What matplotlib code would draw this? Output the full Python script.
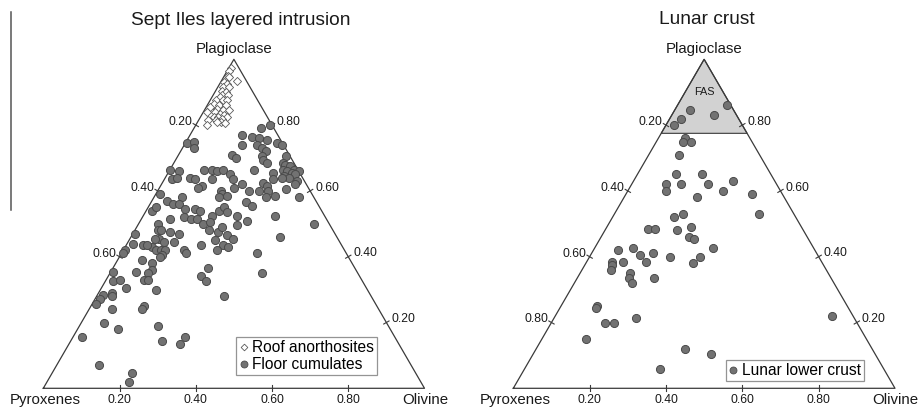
import numpy as np
import matplotlib
matplotlib.use('Agg')
import matplotlib.pyplot as plt
from matplotlib.lines import Line2D

plt.rcParams['font.family'] = ['Liberation Sans', 'DejaVu Sans']

H = np.sqrt(3) / 2

# compositions as fractions; pyroxene is whatever is left over
# Sept Iles - roof anorthosites
roof_plag = [0.975, 0.965, 0.95, 0.945, 0.935, 0.93, 0.925, 0.915, 0.915, 0.905,
             0.90, 0.89, 0.89, 0.885, 0.875, 0.875, 0.875, 0.865, 0.86, 0.86,
             0.855, 0.85, 0.845, 0.845, 0.84, 0.84, 0.835, 0.83, 0.825, 0.825,
             0.825, 0.82, 0.815, 0.815, 0.81, 0.81, 0.805, 0.80]
roof_ol = [0.005, 0.005, 0.01, 0.015, 0.04, 0.01, 0.02, 0.015, 0.03, 0.015,
           0.03, 0.025, 0.04, 0.02, 0.015, 0.035, 0.045, 0.015, 0.03, 0.05,
           0.01, 0.03, 0.05, 0.065, 0.01, 0.03, 0.045, 0.06, 0.035, 0.045,
           0.07, 0.06, 0.025, 0.045, 0.06, 0.05, 0.075, 0.03]

# Sept Iles - floor cumulates
floor_plag = [0.745, 0.75, 0.73, 0.80, 0.79, 0.77, 0.765, 0.76, 0.755, 0.74,
              0.74, 0.745, 0.74, 0.73, 0.72, 0.705, 0.71, 0.70, 0.705, 0.695,
              0.685, 0.665, 0.685, 0.68, 0.675, 0.665, 0.66, 0.665, 0.66, 0.655,
              0.65, 0.645, 0.64, 0.63, 0.62, 0.64, 0.655, 0.635, 0.665, 0.665,
              0.66, 0.665, 0.65, 0.635, 0.64, 0.635, 0.635, 0.615, 0.61, 0.62,
              0.61, 0.60, 0.60, 0.625, 0.615, 0.60, 0.58, 0.585, 0.60, 0.59,
              0.585, 0.58, 0.58, 0.605, 0.58,
              0.665, 0.66, 0.635, 0.64, 0.59,
              0.54, 0.55, 0.57, 0.56, 0.56, 0.545, 0.545, 0.54, 0.525, 0.54,
              0.55, 0.535, 0.525, 0.565, 0.555, 0.525, 0.50, 0.52, 0.515, 0.515,
              0.515, 0.50, 0.505, 0.495, 0.51, 0.50, 0.48, 0.47, 0.48, 0.475,
              0.47, 0.455, 0.455, 0.445, 0.445, 0.43, 0.435, 0.435, 0.44, 0.48,
              0.475, 0.49, 0.465, 0.455, 0.45, 0.46, 0.42, 0.41, 0.42, 0.42,
              0.42, 0.405, 0.40, 0.435, 0.43, 0.42, 0.435, 0.42, 0.41, 0.41,
              0.39, 0.38, 0.36, 0.35, 0.33, 0.33, 0.355, 0.355, 0.325, 0.33,
              0.305, 0.365, 0.34, 0.325, 0.35, 0.30, 0.285, 0.29, 0.28, 0.27,
              0.255, 0.24, 0.25, 0.24, 0.28, 0.20, 0.18, 0.19, 0.145, 0.135,
              0.155, 0.155, 0.07, 0.045, 0.02]
floor_ol = [0.005, 0.02, 0.03, 0.195, 0.175, 0.135, 0.165, 0.185, 0.21, 0.15,
            0.19, 0.24, 0.255, 0.21, 0.225, 0.285, 0.14, 0.155, 0.22, 0.23,
            0.245, 0.22, 0.285, 0.295, 0.31, 0.325, 0.34, 0.295, 0.31, 0.325,
            0.335, 0.31, 0.325, 0.35, 0.35, 0.305, 0.275, 0.285, 0.09, 0.11,
            0.125, 0.14, 0.165, 0.18, 0.065, 0.08, 0.125, 0.11, 0.10, 0.21,
            0.195, 0.24, 0.265, 0.265, 0.28, 0.29, 0.295, 0.315, 0.165, 0.175,
            0.19, 0.17, 0.075, 0.335, 0.38,
            0.0, 0.025, 0.02, 0.03, 0.01,
            0.015, 0.02, 0.04, 0.06, 0.075, 0.10, 0.125, 0.14, 0.18, 0.19,
            0.20, 0.215, 0.245, 0.25, 0.27, 0.345, 0.46, 0.11, 0.13, 0.145,
            0.075, 0.17, 0.185, 0.26, 0.28, 0.05, 0.06, 0.005, 0.07, 0.095,
            0.12, 0.075, 0.065, 0.095, 0.12, 0.07, 0.045, 0.055, 0.015, 0.195,
            0.22, 0.225, 0.25, 0.27, 0.225, 0.39, 0.005, 0.005, 0.085, 0.10,
            0.11, 0.11, 0.105, 0.255, 0.27, 0.245, 0.195, 0.16, 0.17, 0.355,
            0.065, 0.095, 0.105, 0.10, 0.10, 0.11, 0.065, 0.005, 0.02, 0.035,
            0.065, 0.25, 0.245, 0.265, 0.40, 0.145, 0.015, 0.035, 0.04, 0.015,
            0.01, 0.06, 0.14, 0.14, 0.335, 0.06, 0.105, 0.205, 0.24, 0.29,
            0.295, 0.025, 0.11, 0.21, 0.215]

# lunar lower crust samples
lunar_plag = [0.86, 0.845, 0.82, 0.83, 0.80, 0.76, 0.75, 0.75, 0.71, 0.65,
              0.62, 0.62, 0.60, 0.65, 0.62, 0.63, 0.60, 0.59, 0.53, 0.58,
              0.53, 0.52, 0.485, 0.485, 0.48, 0.49, 0.46, 0.455, 0.42, 0.425,
              0.405, 0.41, 0.385, 0.385, 0.375, 0.36, 0.385, 0.40, 0.40, 0.38,
              0.425, 0.35, 0.335, 0.32, 0.335, 0.25, 0.245, 0.20, 0.20, 0.215,
              0.15, 0.12, 0.105, 0.06, 0.22]
lunar_ol = [0.13, 0.04, 0.03, 0.11, 0.02, 0.07, 0.07, 0.09, 0.08, 0.10,
            0.09, 0.13, 0.10, 0.17, 0.20, 0.26, 0.25, 0.33, 0.38, 0.19,
            0.18, 0.16, 0.11, 0.13, 0.19, 0.22, 0.23, 0.245, 0.065, 0.10,
            0.13, 0.16, 0.155, 0.065, 0.07, 0.075, 0.095, 0.21, 0.29, 0.28,
            0.31, 0.13, 0.135, 0.15, 0.20, 0.095, 0.095, 0.14, 0.165, 0.215,
            0.115, 0.39, 0.465, 0.355, 0.725]

FAS_MIN_PLAG = 0.775

bottom_ticks = [0.2, 0.4, 0.6, 0.8]
right_ticks = [0.2, 0.4, 0.6, 0.8]
sept_left_ticks = [0.2, 0.4, 0.6]
lunar_left_ticks = [0.2, 0.4, 0.6, 0.8]

EDGE = '#3a3a3a'
DOT_FACE = '#727272'
DOT_EDGE = '#4a4a4a'
TEXT = '#1a1a1a'


def to_xy(plag, ol):
    plag = np.asarray(plag, dtype=float)
    ol = np.asarray(ol, dtype=float)
    return ol + plag / 2, plag * H


def draw_frame(ax, left_ticks):
    ax.set_xlim(0, 1)
    ax.set_ylim(0, H)
    ax.axis('off')
    ax.plot([0, 1, 0.5, 0], [0, 0, H, 0], color=EDGE, lw=0.9, clip_on=False, zorder=3)
    d = 0.008
    kw = dict(color=EDGE, lw=0.8, clip_on=False, zorder=3)
    lab = dict(fontsize=8.7, color=TEXT, textcoords='offset points')
    for t in bottom_ticks:
        ax.plot([t, t], [-d, d], **kw)
        ax.annotate(f'{t:.2f}', (t, 0), xytext=(0, -8.5), ha='center', va='center', **lab)
    for t in left_ticks:
        x, y = to_xy(1 - t, 0)
        ax.plot([x - 0.866 * d, x + 0.866 * d], [y + 0.5 * d, y - 0.5 * d], **kw)
        ax.annotate(f'{t:.2f}', (x, y), xytext=(-2.5, 2.2), ha='right', va='center', **lab)
    for t in right_ticks:
        x, y = to_xy(t, 1 - t)
        ax.plot([x - 0.866 * d, x + 0.866 * d], [y - 0.5 * d, y + 0.5 * d], **kw)
        ax.annotate(f'{t:.2f}', (x, y), xytext=(3.5, 2.4), ha='left', va='center', **lab)
    corner = dict(fontsize=10.8, color=TEXT, textcoords='offset points',
                  ha='center', va='center', annotation_clip=False)
    ax.annotate('Pyroxenes', (0, 0), xytext=(1.5, -8.4), **corner)
    ax.annotate('Olivine', (1, 0), xytext=(0.5, -8.4), **corner)
    ax.annotate('Plagioclase', (0.5, H), xytext=(0, 7.4), **corner)


def dots(ax, plag, ol):
    x, y = to_xy(plag, ol)
    ax.scatter(x, y, s=34, marker='o', facecolor=DOT_FACE, edgecolor=DOT_EDGE,
               linewidth=0.7, clip_on=False, zorder=4)


fig = plt.figure(figsize=(9.18, 4.07), dpi=100)
fig.patch.set_facecolor('white')

ax1 = fig.add_axes([43.3 / 918, 18.7 / 407, 381.2 / 918, 329 / 407])
ax2 = fig.add_axes([513.3 / 918, 18.7 / 407, 381.7 / 918, 329 / 407])

# --- Sept Iles ---
draw_frame(ax1, sept_left_ticks)
dots(ax1, floor_plag, floor_ol)
rx, ry = to_xy(roof_plag, roof_ol)
ax1.scatter(rx, ry, s=17, marker='D', facecolor='white', edgecolor='#5a5a5a',
            linewidth=0.6, clip_on=False, zorder=5)

h_roof = Line2D([], [], ls='none', marker='D', ms=3.4, mfc='white', mec='#5a5a5a', mew=0.6)
h_floor = Line2D([], [], ls='none', marker='o', ms=5.0, mfc=DOT_FACE, mec=DOT_EDGE, mew=0.6)
leg_kw = dict(loc='upper left', bbox_transform=fig.transFigure, frameon=True,
              fancybox=False, edgecolor='#7a7a7a', fontsize=11.2, handlelength=0.6,
              handletextpad=0.25, borderpad=0.2, labelspacing=0.12, borderaxespad=0)
leg1 = ax1.legend([h_roof, h_floor], ['Roof anorthosites', 'Floor cumulates'],
                  bbox_to_anchor=(236 / 918, 1 - 337 / 407), **leg_kw)
leg1.get_frame().set_linewidth(0.9)

# --- Lunar crust ---
draw_frame(ax2, lunar_left_ticks)
fx, fy = to_xy([FAS_MIN_PLAG, FAS_MIN_PLAG, 1.0], [0.0, 1 - FAS_MIN_PLAG, 0.0])
ax2.fill(fx, fy, facecolor='#d2d2d2', edgecolor=EDGE, lw=0.8, zorder=2)
ax2.text(0.5, (FAS_MIN_PLAG + 0.125) * H, 'FAS', fontsize=7.8, color=TEXT,
         ha='center', va='center', zorder=5)
dots(ax2, lunar_plag, lunar_ol)
leg2 = ax2.legend([h_floor], ['Lunar lower crust'],
                  bbox_to_anchor=(725.7 / 918, 1 - 360 / 407), **leg_kw)
leg2.get_frame().set_linewidth(0.9)

fig.text(241 / 918, 1 - 20.7 / 407, 'Sept Iles layered intrusion', fontsize=13.8,
         color=TEXT, ha='center', va='center')
fig.text(707 / 918, 1 - 20 / 407, 'Lunar crust', fontsize=13.8,
         color=TEXT, ha='center', va='center')

# edge of the neighbouring panel
fig.add_artist(Line2D([11 / 918, 11 / 918], [1 - 12 / 407, 1 - 210 / 407],
                      color='#555555', lw=1.1))

fig.savefig('out.png', dpi=100)
